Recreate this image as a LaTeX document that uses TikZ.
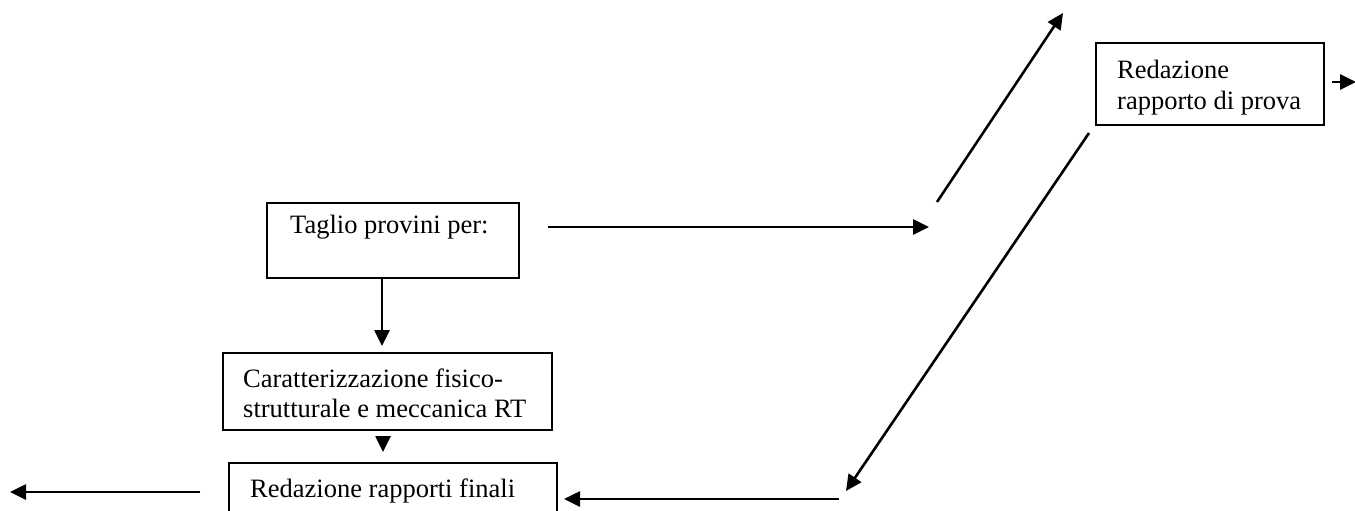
\documentclass[tikz,border=0pt]{standalone}
\usepackage{fontspec}
\setmainfont{Liberation Serif}
\usetikzlibrary{arrows.meta}
\begin{document}
\begin{tikzpicture}[x=1pt,y=-1pt,
  boxline/.style={draw=black,line width=1.8pt},
  lbl/.style={anchor=base west,inner sep=0pt,font=\fontsize{26.5}{30}\selectfont},
  conn/.style={line width=2.6pt,-{Triangle[length=16pt,width=15pt]}}]
\useasboundingbox (0,0) rectangle (1355,511);
\clip (0,0) rectangle (1355,511);
% boxes
\draw[boxline] (267,203) rectangle (519,278);
\node[lbl] (taglio) at (290,233) {Taglio provini per:};
\draw[boxline] (223,353) rectangle (552,430);
\node[lbl] (car1) at (243,387) {Caratterizzazione fisico-};
\node[lbl] (car2) at (243,417) {strutturale e meccanica RT};
\draw[boxline] (229,463) rectangle (557,530);
\node[lbl] (finali) at (250,497) {Redazione rapporti finali};
\draw[boxline] (1096,43) rectangle (1324,125);
\node[lbl] (red1) at (1117,78) {Redazione};
\node[lbl] (red2) at (1117,109) {rapporto di prova};
% connector end points
\coordinate (a1s) at (382,278); \coordinate (a1e) at (382,346);
\coordinate (a2s) at (383,436); \coordinate (a2e) at (383,452);
\coordinate (a3s) at (548,227); \coordinate (a3e) at (929,227);
\coordinate (a4s) at (937,202); \coordinate (a4e) at (1063,13);
\coordinate (a5s) at (1089,133); \coordinate (a5e) at (846,491);
\coordinate (a6s) at (839,499); \coordinate (a6e) at (564,499);
\coordinate (a7s) at (200,492); \coordinate (a7e) at (10,492);
\coordinate (a8s) at (1332,82); \coordinate (a8e) at (1356,82);
\draw[conn] (a1s) -- (a1e);
\draw[conn] (a2s) -- (a2e);
\draw[conn] (a3s) -- (a3e);
\draw[conn] (a4s) -- (a4e);
\draw[conn] (a5s) -- (a5e);
\draw[conn] (a6s) -- (a6e);
\draw[conn] (a7s) -- (a7e);
\draw[conn] (a8s) -- (a8e);
\end{tikzpicture}
\end{document}
